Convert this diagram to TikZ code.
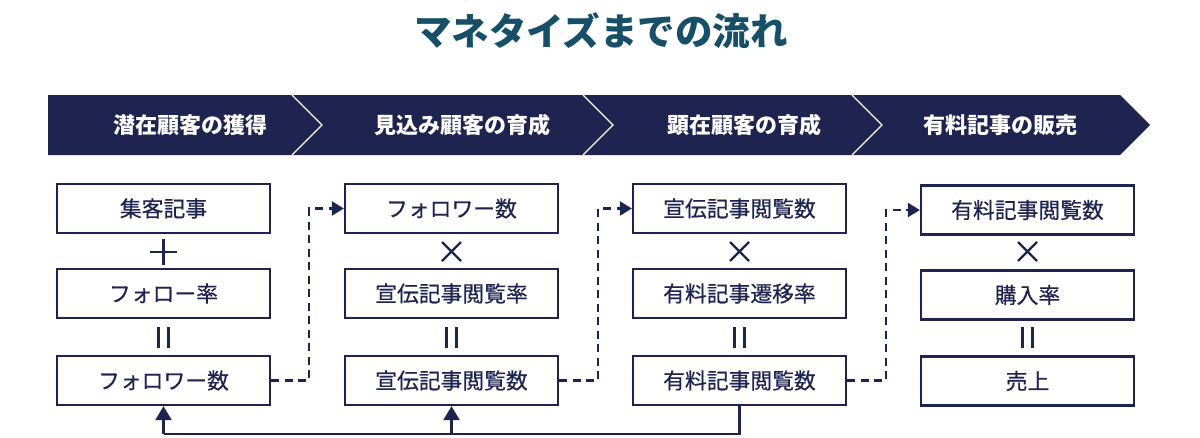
\documentclass[tikz,border=0pt]{standalone}
\usepackage{fontspec}
\setmainfont{Noto Sans CJK JP}
\newfontfamily\medfont{Noto Sans CJK JP}[FakeBold=0.5]
\usetikzlibrary{arrows.meta,calc}
\definecolor{navy}{HTML}{1E2350}
\definecolor{titleteal}{HTML}{174F68}
\begin{document}
\begin{tikzpicture}[x=1pt,y=-1pt,
  box/.style={draw=navy,line width=2.3pt,minimum width=213pt,minimum height=49pt,inner sep=0pt,
    font=\medfont\fontsize{21.8}{26}\selectfont,text=navy},
  bannertext/.style={text=white,font=\fontsize{22}{26}\selectfont\bfseries},
  opline/.style={draw=navy,line width=2.3pt},
  dashconn/.style={draw=navy,line width=2.4pt,dash pattern=on 8pt off 5.5pt,-{Triangle[width=14pt,length=12pt]}},
  solidconn/.style={draw=navy,line width=2.2pt},
  uparrow/.style={draw=navy,line width=2.2pt,-{Triangle[width=16pt,length=14pt]}}]
\useasboundingbox (0,0) rectangle (1200,437);
% title
\node[text=titleteal,font=\fontsize{37.5}{44}\selectfont\bfseries] (title) at (601,31) {マネタイズまでの流れ};
% banner
\fill[navy] (48,95) -- (1120,95) -- (1150,125) -- (1120,155) -- (48,155) -- cycle;
\foreach \x in {292,583,852}{
  \draw[white,line width=1.2pt] (\x,95) -- (\x+30,125) -- (\x,155);
}
\node[bannertext] (h1) at (190,125) {潜在顧客の獲得};
\node[bannertext] (h2) at (462,125) {見込み顧客の育成};
\node[bannertext] (h3) at (744,125) {顕在顧客の育成};
\node[bannertext] (h4) at (1000,125) {有料記事の販売};
% boxes
\node[box] (a1) at (163.5,208.5) {集客記事};
\node[box] (a2) at (163.5,293.5) {フォロー率};
\node[box] (a3) at (163.5,380.5) {フォロワー数};
\node[box] (b1) at (451.5,208.5) {フォロワー数};
\node[box] (b2) at (451.5,293.5) {宣伝記事閲覧率};
\node[box] (b3) at (451.5,380.5) {宣伝記事閲覧数};
\node[box] (c1) at (739.5,208.5) {宣伝記事閲覧数};
\node[box] (c2) at (739.5,293.5) {有料記事遷移率};
\node[box] (c3) at (739.5,380.5) {有料記事閲覧数};
\node[box] (d1) at (1027.5,210) {有料記事閲覧数};
\node[box] (d2) at (1027.5,295) {購入率};
\node[box] (d3) at (1027.5,381) {売上};
% operators
\draw[opline] (150,252) -- (177,252) (163.5,239) -- (163.5,265);
\foreach \cx in {451.5,739.5,1027.5}{
  \draw[opline] (\cx-9.5,242) -- (\cx+9.5,261) (\cx-9.5,261) -- (\cx+9.5,242);
}
\foreach \cx in {163.5,451.5,739.5,1027.5}{
  \draw[opline] (\cx-5,327) -- (\cx-5,348) (\cx+5,327) -- (\cx+5,348);
}
% dashed connectors
\draw[dashconn] (a3.east) -- ++(38,0) |- (b1.west);
\draw[dashconn] (b3.east) -- ++(39,0) |- (c1.west);
\draw[dashconn] (c3.east) -- ++(39,0) |- (d1.west);
% feedback line
\coordinate (base) at (0,434);
\draw[solidconn] (c3.south) -- (c3.south |- base) -- (a3.south |- base);
\draw[uparrow] (a3.south |- base) -- (a3.south);
\draw[uparrow] (b3.south |- base) -- (b3.south);
\end{tikzpicture}
\end{document}
